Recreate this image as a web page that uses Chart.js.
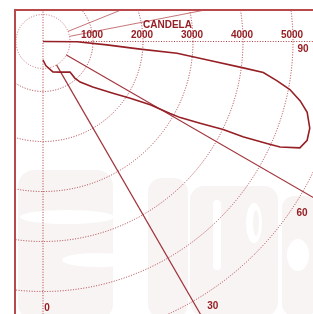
<!DOCTYPE html>
<html>
<head>
<meta charset="utf-8">
<script src="https://cdn.jsdelivr.net/npm/chart.js@4.4.1/dist/chart.umd.min.js"></script>
<style>
  html, body { margin: 0; padding: 0; background: #fff; }
  #wrap { width: 313px; height: 314px; position: relative; }
</style>
</head>
<body>
<div id="wrap"><canvas id="myPolarChart"></canvas></div>
<script>
// Curva fotométrica: ángulo desde la vertical (grados) y candelas
var angulos = [0, 7, 18, 29, 41.5, 41, 42.5, 47.5, 53.5, 57, 59.5, 60.5, 61, 62.5, 64, 64.5, 65.5, 66, 67.5, 69.5, 72, 75, 77, 79, 80.5, 82, 82.5, 83.5, 85, 85.5, 87, 89.5, 90];
var candelas = [370, 490, 640, 700, 815, 970, 1100, 1350, 1740, 2080, 2490, 2920, 3140, 3540, 4010, 4430, 4920, 5190, 5560, 5640, 5610, 5470, 5280, 5030, 4740, 4450, 4040, 3360, 2690, 1950, 1280, 680, 0];

// Rejilla polar
var circulos = [1000, 2000, 3000, 4000, 5000, 6000];
var etiquetasCirculos = ['1000', '2000', '3000', '4000', '5000'];
var lineasAngulo = [0, 30, 60, 90];
var etiquetasAngulo = ['0', '30', '60', '90'];
var lineasSuperiores = [101, 112];
var tituloEje = 'CANDELA';

var rojo = '#951f24';
var radioLuminaria = 540;

// Puntos x/y a partir de ángulo y candelas
var puntosCurva = angulos.map(function(a, i) {
  var t = a * Math.PI / 180;
  return { x: candelas[i] * Math.sin(t), y: -candelas[i] * Math.cos(t) };
});

function helpers(chart) {
  var sx = chart.scales.x, sy = chart.scales.y;
  var ox = sx.getPixelForValue(0), oy = sy.getPixelForValue(0);
  return {
    ox: ox, oy: oy,
    rad: function(v) { return sx.getPixelForValue(v) - ox; },
    punto: function(ang, v) {
      var t = ang * Math.PI / 180;
      return [sx.getPixelForValue(v * Math.sin(t)), sy.getPixelForValue(-v * Math.cos(t))];
    }
  };
}

var rejilla = {
  id: 'rejilla',
  beforeDatasetsDraw: function(chart) {
    var ctx = chart.ctx, a = chart.chartArea, h = helpers(chart);
    ctx.save();
    ctx.beginPath();
    ctx.rect(a.left, a.top, a.right - a.left, a.bottom - a.top);
    ctx.clip();

    // marca de agua de fondo
    var pálido = '#f8f4f4';
    ctx.fillStyle = pálido;
    [[18, 170, 95, 150, 16], [148, 178, 40, 140, 14], [190, 186, 88, 130, 14], [282, 196, 35, 120, 12]].forEach(function(r) {
      ctx.beginPath(); ctx.roundRect(r[0], r[1], r[2], r[3], r[4]); ctx.fill();
    });
    ctx.fillStyle = '#ffffff';
    ctx.beginPath(); ctx.ellipse(67, 217, 47, 7, 0, 0, 2 * Math.PI); ctx.fill();
    ctx.beginPath(); ctx.ellipse(98, 260, 36, 7, 0, 0, 2 * Math.PI); ctx.fill();
    ctx.beginPath(); ctx.roundRect(213, 200, 8, 70, 4); ctx.fill();
    ctx.beginPath(); ctx.ellipse(254, 223, 8, 20, 0, 0, 2 * Math.PI); ctx.fill();
    ctx.beginPath(); ctx.ellipse(298, 255, 11, 16, 0, 0, 2 * Math.PI); ctx.fill();
    ctx.fillStyle = pálido;
    ctx.beginPath(); ctx.ellipse(256, 223, 3, 13, 0, 0, 2 * Math.PI); ctx.fill();

    // arcos punteados
    var punteado = 'rgba(165,40,46,0.9)';
    ctx.strokeStyle = punteado;
    ctx.lineWidth = 1;
    ctx.setLineDash([1, 1.6]);
    circulos.forEach(function(c) {
      ctx.beginPath(); ctx.arc(h.ox, h.oy, h.rad(c), 0, 2 * Math.PI); ctx.stroke();
    });
    ctx.strokeStyle = 'rgba(180,70,75,0.75)';
    ctx.beginPath(); ctx.arc(h.ox, h.oy, h.rad(radioLuminaria), 0, 2 * Math.PI); ctx.stroke();

    // lineas radiales
    var r0 = radioLuminaria;
    lineasAngulo.forEach(function(ang) {
      var p1 = ang === 0 ? h.punto(180, 2000) : h.punto(ang, r0);
      var p2 = h.punto(ang, 9000);
      if (ang === 0 || ang === 90) {
        ctx.setLineDash([1, 1.6]);
        ctx.strokeStyle = punteado;
        ctx.lineWidth = 1;
      } else {
        ctx.setLineDash([]);
        ctx.strokeStyle = 'rgba(150,30,38,0.9)';
        ctx.lineWidth = 1.2;
      }
      ctx.beginPath(); ctx.moveTo(p1[0], p1[1]); ctx.lineTo(p2[0], p2[1]); ctx.stroke();
    });
    ctx.setLineDash([]);
    ctx.lineWidth = 1;
    ctx.strokeStyle = 'rgba(180,70,75,0.75)';
    lineasSuperiores.forEach(function(ang) {
      var p1 = h.punto(ang, r0), p2 = h.punto(ang, 9000);
      ctx.beginPath(); ctx.moveTo(p1[0], p1[1]); ctx.lineTo(p2[0], p2[1]); ctx.stroke();
    });
    ctx.restore();
  },
  afterDraw: function(chart) {
    var ctx = chart.ctx, a = chart.chartArea, h = helpers(chart);
    ctx.save();
    // marco superior e izquierdo
    ctx.strokeStyle = '#b8494c';
    ctx.lineWidth = 2;
    ctx.beginPath();
    ctx.moveTo(a.right, a.top); ctx.lineTo(a.left, a.top); ctx.lineTo(a.left, a.bottom);
    ctx.stroke();

    ctx.fillStyle = rojo;
    ctx.font = 'bold 10px "Liberation Sans", Arial, sans-serif';
    ctx.textAlign = 'center';
    ctx.textBaseline = 'middle';
    etiquetasCirculos.forEach(function(t, i) {
      ctx.fillText(t, h.ox + h.rad(circulos[i]) - 1, h.oy - 6.5);
    });
    ctx.fillText(tituloEje, 167.5, 25);

    var pos = [{ r: 5330, dx: 4, dy: 0 }, { r: 6110, dx: 17, dy: 0 }, { r: 5980, dx: 0, dy: 22 }, { r: 5200, dx: 0, dy: 7.5 }];
    etiquetasAngulo.forEach(function(t, i) {
      var p = h.punto(lineasAngulo[i], pos[i].r);
      ctx.fillText(t, p[0] + pos[i].dx, p[1] + pos[i].dy);
    });
    ctx.restore();
  }
};

var ctx = document.getElementById('myPolarChart');

var myPolarChart = new Chart(ctx, {
  type: 'scatter',
  data: {
    datasets: [{
      data: puntosCurva,
      showLine: true,
      borderColor: rojo,
      borderWidth: 1.6,
      pointRadius: 0,
      fill: false
    }]
  },
  options: {
    animation: false,
    responsive: true,
    maintainAspectRatio: false,
    layout: { padding: { left: 15, top: 10, right: 0, bottom: 0 } },
    scales: {
      x: { type: 'linear', display: false, min: -560, max: 5400 },
      y: { type: 'linear', display: false, min: -5450, max: 630 }
    },
    plugins: {
      legend: { display: false },
      tooltip: { enabled: false }
    }
  },
  plugins: [rejilla]
});
</script>
</body>
</html>
